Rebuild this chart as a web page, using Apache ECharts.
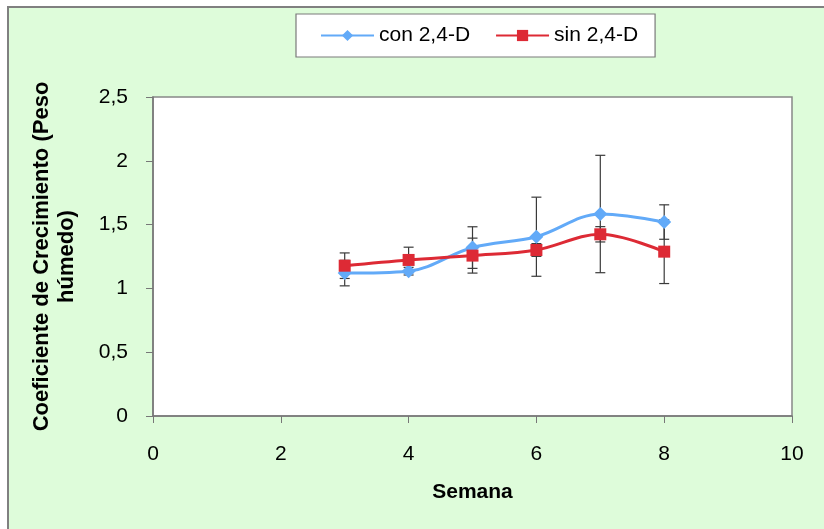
<!DOCTYPE html>
<html>
<head>
<meta charset="utf-8">
<script src="https://cdn.jsdelivr.net/npm/echarts@6/dist/echarts.min.js"></script>
<style>html,body{margin:0;padding:0;background:#fff}#c{width:824px;height:529px}</style>
</head>
<body>
<div id="c"></div>
<script>
var semanas = [3, 4, 5, 6, 7, 8];
var conValues = [1.12, 1.135, 1.32, 1.405, 1.583, 1.52];
var sinValues = [1.178, 1.223, 1.257, 1.301, 1.424, 1.288];
var conErr = [0.1, 0.03, 0.163, 0.31, 0.46, 0.135];
var sinErr = [0.1, 0.1, 0.137, 0.05, 0.06, 0.25];
var xTicks = [0, 2, 4, 6, 8, 10];
var yTicks = [0, 0.5, 1, 1.5, 2, 2.5];

var FONT = '"Liberation Sans", Arial, sans-serif';
function pairs(xs, ys) { return xs.map(function (x, i) { return [x, ys[i]]; }); }
function errData(xs, ys, es) { return xs.map(function (x, i) { return [x, ys[i], es[i]]; }); }

function errRender(params, api) {
  var x = api.value(0), y = api.value(1), e = api.value(2);
  var hi = api.coord([x, y + e]);
  var lo = api.coord([x, y - e]);
  var w = 5;
  var st = { stroke: '#3a3a3a', lineWidth: 1.2 };
  return {
    type: 'group',
    children: [
      { type: 'line', shape: { x1: hi[0], y1: hi[1], x2: lo[0], y2: lo[1] }, style: st },
      { type: 'line', shape: { x1: hi[0] - w, y1: hi[1], x2: hi[0] + w, y2: hi[1] }, style: st },
      { type: 'line', shape: { x1: lo[0] - w, y1: lo[1], x2: lo[0] + w, y2: lo[1] }, style: st }
    ]
  };
}

var chart = echarts.init(document.getElementById('c'), null, { renderer: 'canvas' });
chart.setOption({
  animation: false,
  backgroundColor: '#ffffff',
  graphic: [{
    type: 'rect', z: -10, silent: true,
    shape: { x: 8, y: 7, width: 830, height: 540 },
    style: { fill: '#defcda', stroke: '#808080', lineWidth: 2 }
  }],
  legend: {
    left: 296, top: 14,
    data: ['con 2,4-D', 'sin 2,4-D'],
    backgroundColor: '#ffffff',
    borderColor: '#7a7a7a', borderWidth: 1.2,
    padding: [11, 17, 11, 24],
    itemWidth: 53, itemHeight: 14, itemGap: 25,
    textStyle: { fontFamily: FONT, fontSize: 21, color: '#000' }
  },
  grid: { left: 153, right: 32, top: 97, bottom: 113, show: true, backgroundColor: '#ffffff', borderColor: '#888', borderWidth: 1.5 },
  xAxis: {
    type: 'value', min: 0, max: 10, interval: 2,
    name: 'Semana', nameLocation: 'middle', nameGap: 66,
    nameTextStyle: { fontFamily: FONT, fontSize: 21, fontWeight: 'bold', color: '#000' },
    axisLine: { show: true, onZero: false, lineStyle: { color: '#777', width: 1.5 } },
    axisTick: { show: true, length: 7, lineStyle: { color: '#777' } },
    axisLabel: { fontFamily: FONT, fontSize: 21, color: '#000', margin: 28,
      formatter: function (v) { return xTicks.indexOf(v) >= 0 ? String(v) : ''; } },
    splitLine: { show: false }
  },
  yAxis: {
    type: 'value', min: 0, max: 2.5, interval: 0.5,
    name: 'Coeficiente de Crecimiento (Peso\nhúmedo)', nameLocation: 'middle', nameGap: 74,
    nameTextStyle: { fontFamily: FONT, fontSize: 22, fontWeight: 'bold', color: '#000', lineHeight: 25 },
    axisLine: { show: true, lineStyle: { color: '#777', width: 1.5 } },
    axisTick: { show: true, length: 7, lineStyle: { color: '#777' } },
    axisLabel: { fontFamily: FONT, fontSize: 21, color: '#000', margin: 25,
      formatter: function (v) { return yTicks.indexOf(v) >= 0 ? String(v).replace('.', ',') : ''; } },
    splitLine: { show: false }
  },
  series: [
    { type: 'custom', name: 'errCon', renderItem: errRender, data: errData(semanas, conValues, conErr), z: 1, encode: { x: 0, y: 1 } },
    { type: 'custom', name: 'errSin', renderItem: errRender, data: errData(semanas, sinValues, sinErr), z: 1, encode: { x: 0, y: 1 } },
    {
      type: 'line', name: 'con 2,4-D', data: pairs(semanas, conValues), smooth: 0.35, z: 3,
      symbol: 'diamond', symbolSize: 14,
      lineStyle: { color: '#62aaf8', width: 3 }, itemStyle: { color: '#62aaf8' }
    },
    {
      type: 'line', name: 'sin 2,4-D', data: pairs(semanas, sinValues), smooth: 0.35, z: 4,
      symbol: 'rect', symbolSize: 12,
      lineStyle: { color: '#dd2a35', width: 3 }, itemStyle: { color: '#dd2a35' }
    }
  ]
});
</script>
</body>
</html>
